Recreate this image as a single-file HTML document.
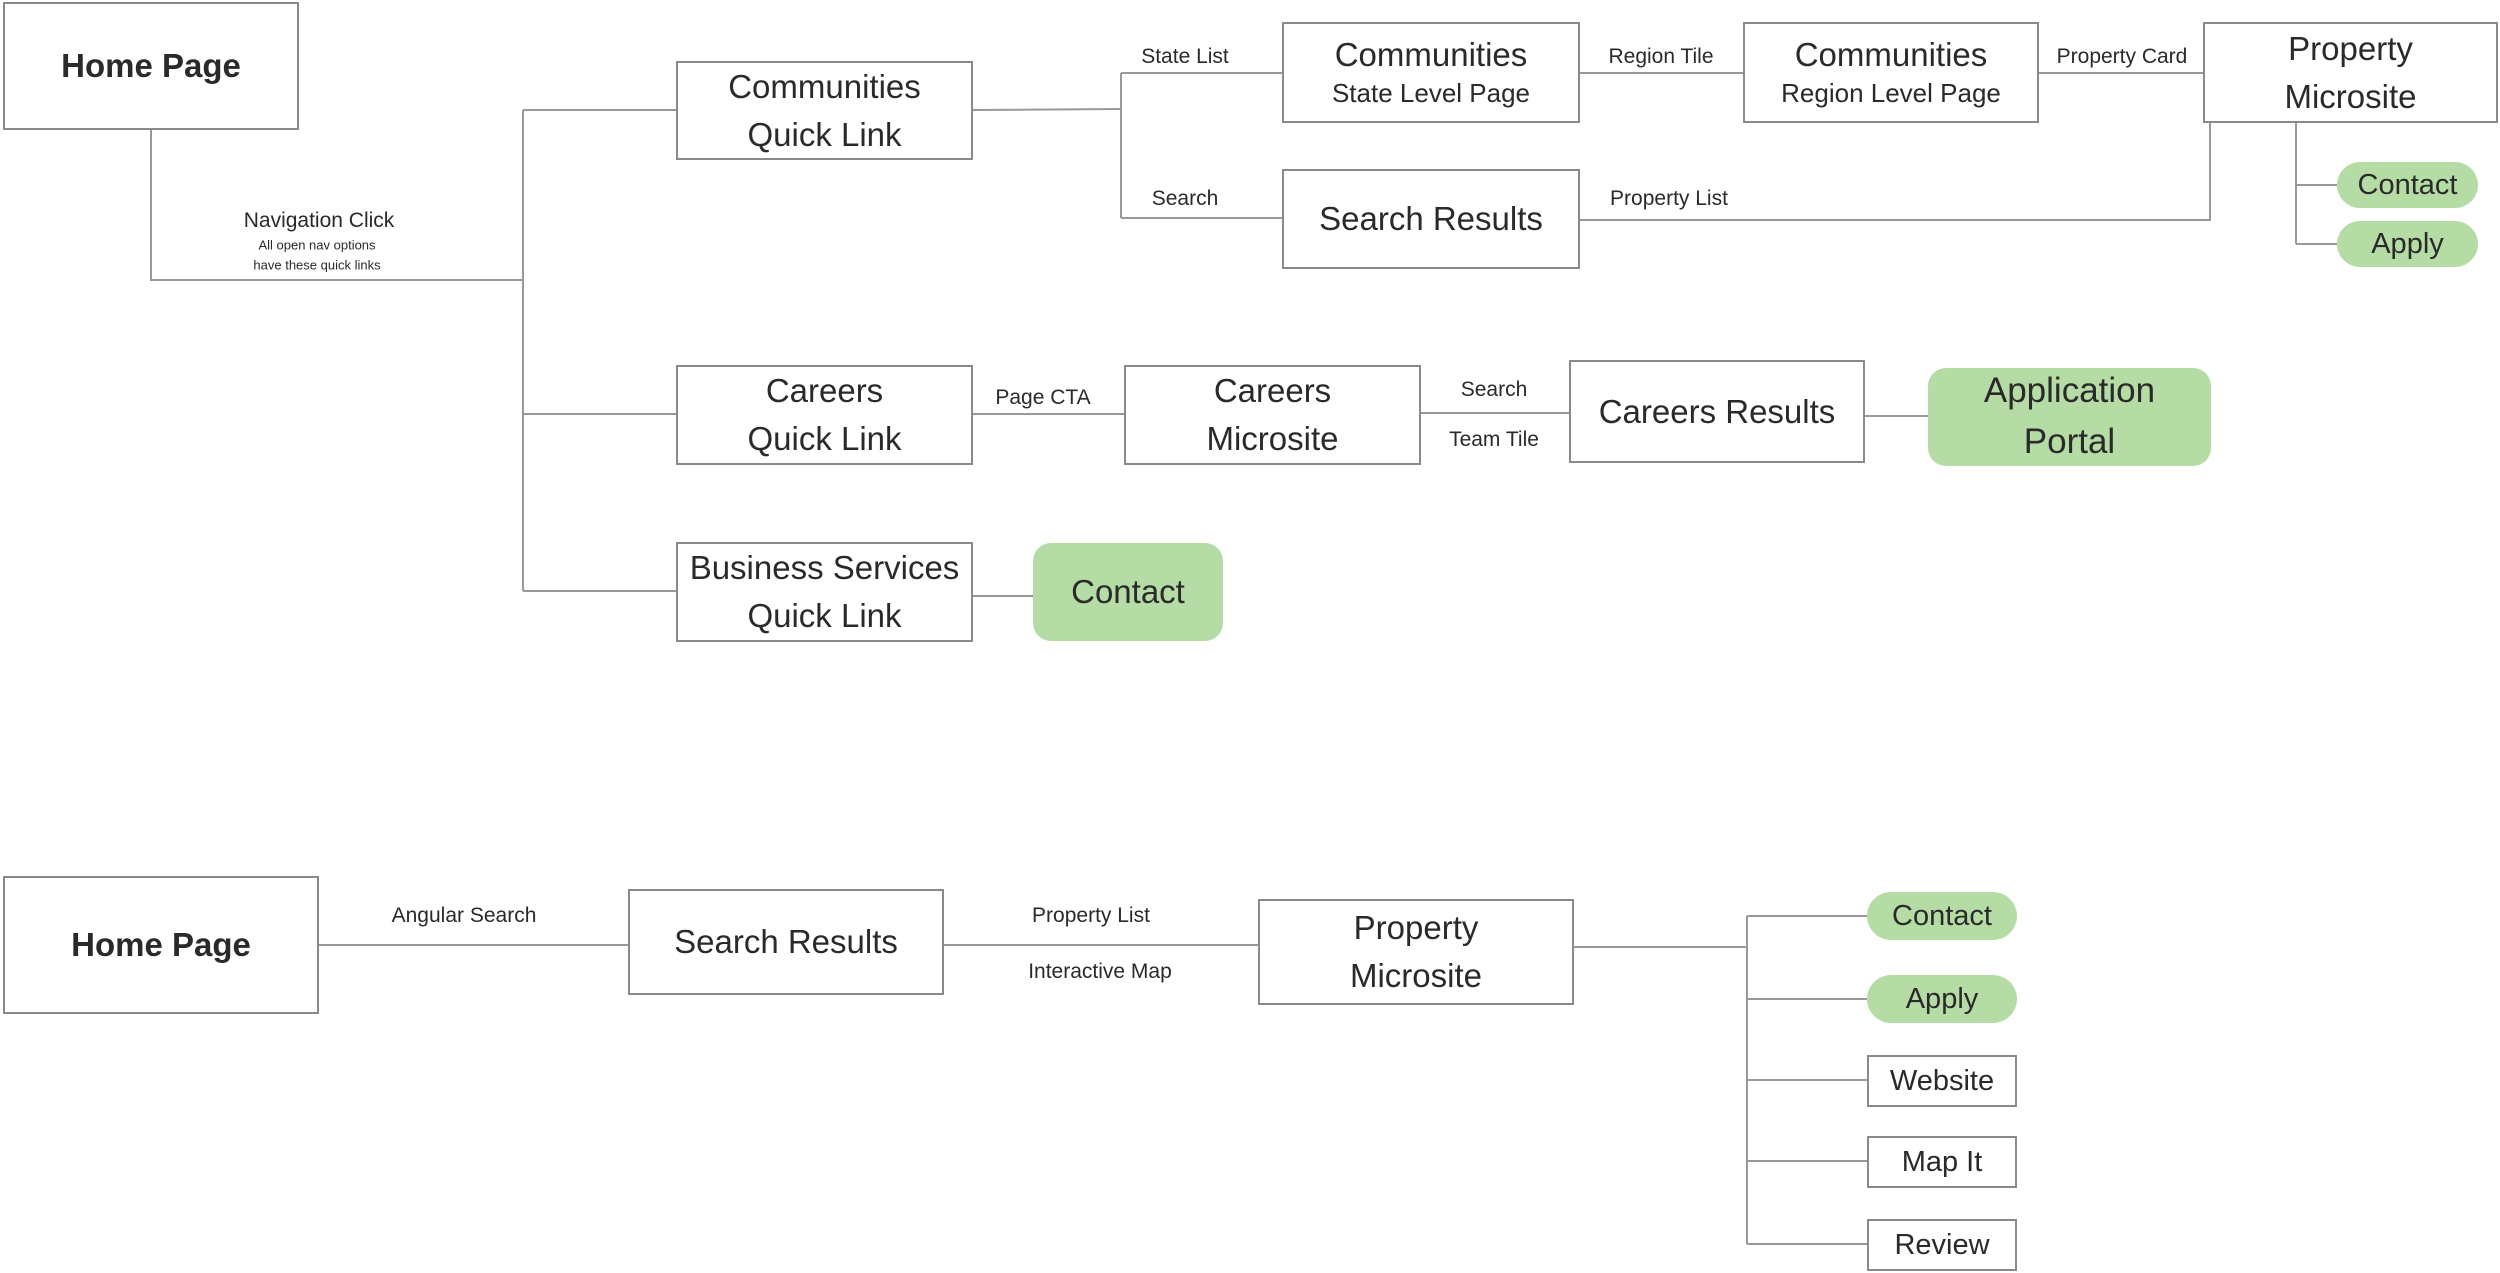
<!DOCTYPE html>
<html><head><meta charset="utf-8"><style>
body{margin:0;width:2500px;height:1273px;background:#fff;position:relative;overflow:hidden;font-family:"Liberation Sans",sans-serif;color:#2a2a2a}
.b{position:absolute;box-sizing:border-box;border:2px solid #8a8a8a;background:#fff;display:flex;flex-direction:column;align-items:center;justify-content:center;text-align:center;font-size:33px;line-height:1.45}
.g{position:absolute;box-sizing:border-box;background:#b6dca6;border-radius:18px;display:flex;flex-direction:column;align-items:center;justify-content:center;text-align:center;font-size:33px;line-height:1.45}
.l{position:absolute;font-size:21px;transform:translate(-50%,-50%);white-space:nowrap}
svg{position:absolute;left:0;top:0}
</style></head><body>
<svg width="2500" height="1273"><g stroke="#999" stroke-width="2" fill="none">
<polyline points="151,129 151,280 523,280"/>
<line x1="523" y1="110" x2="523" y2="591"/>
<line x1="523" y1="110" x2="676" y2="110"/>
<line x1="523" y1="414" x2="676" y2="414"/>
<line x1="523" y1="591" x2="676" y2="591"/>
<line x1="973" y1="110" x2="1121" y2="109"/>
<line x1="1121" y1="73" x2="1121" y2="218"/>
<line x1="1121" y1="73" x2="1282" y2="73"/>
<line x1="1121" y1="218" x2="1282" y2="218"/>
<line x1="1580" y1="73" x2="1743" y2="73"/>
<line x1="2039" y1="73" x2="2203" y2="73"/>
<polyline points="1580,220 2210,220 2210,123"/>
<line x1="2296" y1="123" x2="2296" y2="244"/>
<line x1="2296" y1="185" x2="2337" y2="185"/>
<line x1="2296" y1="244" x2="2337" y2="244"/>
<line x1="973" y1="414" x2="1124" y2="414"/>
<line x1="1421" y1="413" x2="1569" y2="413"/>
<line x1="1865" y1="416" x2="1928" y2="416"/>
<line x1="973" y1="596" x2="1033" y2="596"/>
<line x1="319" y1="945" x2="628" y2="945"/>
<line x1="944" y1="945" x2="1258" y2="945"/>
<line x1="1574" y1="947" x2="1747" y2="947"/>
<line x1="1747" y1="916" x2="1747" y2="1244"/>
<line x1="1747" y1="916" x2="1867" y2="916"/>
<line x1="1747" y1="999" x2="1867" y2="999"/>
<line x1="1747" y1="1080" x2="1867" y2="1080"/>
<line x1="1747" y1="1161" x2="1867" y2="1161"/>
<line x1="1747" y1="1244" x2="1867" y2="1244"/>
</g></svg>

<div class="b" style="left:3px;top:2px;width:296px;height:128px;font-size:33px;font-weight:bold">Home Page</div>
<div class="l" style="left:319px;top:221px">Navigation Click</div>
<div class="l" style="left:317px;top:245px;font-size:13px">All open nav options</div>
<div class="l" style="left:317px;top:265px;font-size:13px">have these quick links</div>

<div class="b" style="left:676px;top:61px;width:297px;height:99px">Communities<br>Quick Link</div>
<div class="l" style="left:1185px;top:57px">State List</div>
<div class="l" style="left:1185px;top:199px">Search</div>
<div class="b" style="left:1282px;top:22px;width:298px;height:101px;line-height:1.3">Communities<br><span style="font-size:26px">State Level Page</span></div>
<div class="l" style="left:1661px;top:57px">Region Tile</div>
<div class="b" style="left:1743px;top:22px;width:296px;height:101px;line-height:1.3">Communities<br><span style="font-size:26px">Region Level Page</span></div>
<div class="l" style="left:2122px;top:57px">Property Card</div>
<div class="b" style="left:2203px;top:22px;width:295px;height:101px">Property<br>Microsite</div>
<div class="g" style="left:2337px;top:162px;width:141px;height:46px;border-radius:23px;font-size:29px">Contact</div>
<div class="g" style="left:2337px;top:221px;width:141px;height:46px;border-radius:23px;font-size:29px">Apply</div>
<div class="b" style="left:1282px;top:169px;width:298px;height:100px">Search Results</div>
<div class="l" style="left:1669px;top:199px">Property List</div>

<div class="b" style="left:676px;top:365px;width:297px;height:100px">Careers<br>Quick Link</div>
<div class="l" style="left:1043px;top:398px">Page CTA</div>
<div class="b" style="left:1124px;top:365px;width:297px;height:100px">Careers<br>Microsite</div>
<div class="l" style="left:1494px;top:390px">Search</div>
<div class="l" style="left:1494px;top:440px">Team Tile</div>
<div class="b" style="left:1569px;top:360px;width:296px;height:103px">Careers Results</div>
<div class="g" style="left:1928px;top:368px;width:283px;height:98px;font-size:35px">Application<br>Portal</div>
<div class="b" style="left:676px;top:542px;width:297px;height:100px">Business Services<br>Quick Link</div>
<div class="g" style="left:1033px;top:543px;width:190px;height:98px">Contact</div>

<div class="b" style="left:3px;top:876px;width:316px;height:138px;font-weight:bold">Home Page</div>
<div class="l" style="left:464px;top:916px">Angular Search</div>
<div class="b" style="left:628px;top:889px;width:316px;height:106px">Search Results</div>
<div class="l" style="left:1091px;top:916px">Property List</div>
<div class="l" style="left:1100px;top:972px">Interactive Map</div>
<div class="b" style="left:1258px;top:899px;width:316px;height:106px">Property<br>Microsite</div>
<div class="g" style="left:1867px;top:892px;width:150px;height:48px;border-radius:24px;font-size:29px">Contact</div>
<div class="g" style="left:1867px;top:975px;width:150px;height:48px;border-radius:24px;font-size:29px">Apply</div>
<div class="b" style="left:1867px;top:1055px;width:150px;height:52px;font-size:29px">Website</div>
<div class="b" style="left:1867px;top:1136px;width:150px;height:52px;font-size:29px">Map It</div>
<div class="b" style="left:1867px;top:1219px;width:150px;height:52px;font-size:29px">Review</div>
</body></html>
